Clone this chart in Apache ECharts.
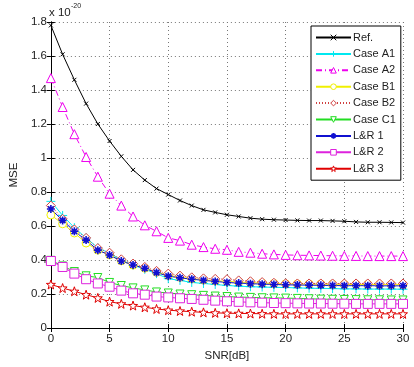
<!DOCTYPE html>
<html>
<head>
<meta charset="utf-8">
<script src="https://cdn.jsdelivr.net/npm/echarts@6/dist/echarts.min.js"></script>
<style>
  html, body { margin: 0; padding: 0; background: #fff; }
  #chart { width: 414px; height: 367px; }
</style>
</head>
<body>
<div id="chart"></div>
<script>
// SNR values 0..30 dB
const snr = [0,1,2,3,4,5,6,7,8,9,10,11,12,13,14,15,16,17,18,19,20,21,22,23,24,25,26,27,28,29,30];

// MSE values (x 1e-20)
const refMse = [1.78,1.61,1.46,1.32,1.20,1.10,1.01,0.93,0.87,0.82,0.785,0.75,0.72,0.695,0.68,0.666,0.656,0.646,0.64,0.637,0.635,0.633,0.632,0.632,0.63,0.628,0.624,0.622,0.622,0.621,0.62];
const caseA1 = [0.745,0.662,0.59,0.53,0.472,0.44,0.40,0.37,0.345,0.32,0.29,0.28,0.268,0.262,0.256,0.25,0.246,0.243,0.241,0.239,0.238,0.236,0.234,0.233,0.232,0.23,0.23,0.229,0.229,0.229,0.228];
const caseA2 = [1.47,1.30,1.14,1.006,0.89,0.79,0.72,0.656,0.604,0.569,0.53,0.514,0.49,0.476,0.466,0.46,0.448,0.443,0.437,0.433,0.43,0.428,0.427,0.426,0.425,0.424,0.424,0.423,0.423,0.423,0.423];
const caseB1 = [0.665,0.613,0.559,0.50,0.458,0.43,0.395,0.37,0.352,0.328,0.31,0.298,0.29,0.283,0.278,0.274,0.27,0.267,0.264,0.262,0.26,0.259,0.258,0.258,0.257,0.256,0.256,0.256,0.255,0.255,0.255];
const caseB2 = [0.72,0.642,0.58,0.53,0.47,0.443,0.404,0.379,0.359,0.336,0.32,0.308,0.298,0.292,0.289,0.287,0.28,0.275,0.27,0.266,0.263,0.262,0.262,0.262,0.262,0.262,0.262,0.262,0.262,0.262,0.262];
const caseC1 = [0.398,0.365,0.332,0.307,0.297,0.268,0.25,0.236,0.224,0.212,0.206,0.2,0.196,0.192,0.188,0.185,0.182,0.18,0.178,0.177,0.176,0.174,0.172,0.17,0.169,0.168,0.167,0.166,0.166,0.165,0.165];
const lr1 = [0.70,0.633,0.569,0.517,0.458,0.429,0.394,0.371,0.351,0.326,0.305,0.295,0.287,0.28,0.274,0.268,0.264,0.261,0.258,0.256,0.254,0.253,0.252,0.251,0.25,0.249,0.249,0.249,0.248,0.248,0.248];
const lr2 = [0.394,0.359,0.32,0.287,0.262,0.243,0.22,0.204,0.196,0.185,0.18,0.175,0.171,0.166,0.161,0.157,0.154,0.151,0.149,0.147,0.146,0.145,0.144,0.144,0.143,0.143,0.142,0.142,0.142,0.142,0.142];
const lr3 = [0.256,0.235,0.216,0.196,0.177,0.155,0.142,0.132,0.122,0.112,0.105,0.1,0.096,0.092,0.089,0.087,0.086,0.085,0.084,0.083,0.083,0.083,0.083,0.083,0.083,0.083,0.083,0.083,0.083,0.083,0.083];

const names = ['Ref.','Case A1','Case A2','Case B1','Case B2','Case C1','L&R 1','L&R 2','L&R 3'];

function pentagram() {
  let d = '';
  for (let i = 0; i < 10; i++) {
    const r = i % 2 === 0 ? 5 : 2;
    const a = -Math.PI / 2 + i * Math.PI / 5;
    d += (i === 0 ? 'M' : 'L') + (5 + r * Math.cos(a)).toFixed(2) + ',' + (5 + r * Math.sin(a)).toFixed(2);
  }
  return 'path://' + d + 'Z';
}

const styles = [
  { data: refMse, color: '#000000', type: 'solid', symbol: 'path://M0,0L10,10M10,0L0,10', size: 4 },
  { data: caseA1, color: '#00e8f0', type: 'solid', symbol: 'path://M5,0L5,10M0,5L10,5', size: 9 },
  { data: caseA2, color: '#ee00ee', type: [6, 3, 1, 3], symbol: 'triangle', size: 9 },
  { data: caseB1, color: '#f0f000', type: 'solid', symbol: 'circle', size: 8 },
  { data: caseB2, color: '#d04040', type: [1, 2], symbol: 'diamond', size: 9 },
  { data: caseC1, color: '#22dd22', type: 'solid', symbol: 'path://M0,0L10,0L5,9Z', size: 8 },
  { data: lr1, color: '#1010d0', type: 'solid', symbol: 'path://M5,0L5,10M0,5L10,5M1.5,1.5L8.5,8.5M8.5,1.5L1.5,8.5', size: 8 },
  { data: lr2, color: '#dd22dd', type: 'solid', symbol: 'rect', size: 9 },
  { data: lr3, color: '#e00000', type: 'solid', symbol: pentagram(), size: 9 }
];

function markerStyle(s, i) {
  return {
    color: i === 6 ? s.color : '#ffffff',
    borderColor: s.color,
    borderWidth: i === 6 ? 1.6 : 1,
    borderType: 'solid'
  };
}

const series = styles.map((s, i) => ({
  name: names[i],
  type: 'line',
  data: snr.map((x, k) => [x, s.data[k]]),
  color: s.color,
  symbol: s.symbol,
  symbolSize: s.size,
  showAllSymbol: true,
  lineStyle: { color: s.color, width: 1, type: s.type },
  itemStyle: markerStyle(s, i),
  emphasis: { disabled: true },
  animation: false
}));

const font = 'Liberation Sans';
const chart = echarts.init(document.getElementById('chart'));
chart.setOption({
  backgroundColor: '#ffffff',
  animation: false,
  textStyle: { fontFamily: font },
  grid: { left: 49, right: 11, top: 22, bottom: 36 },
  legend: {
    orient: 'vertical',
    left: 311,
    top: 26,
    itemWidth: 35,
    itemHeight: 7,
    itemGap: 5.4,
    padding: [6, 5, 6, 4],
    borderColor: '#000',
    borderWidth: 1,
    backgroundColor: '#fff',
    textStyle: { fontFamily: font, fontSize: 11, color: '#222', padding: [0, 0, 0, -3] },
    data: names.map((n, i) => ({ name: n, itemStyle: markerStyle(styles[i], i) }))
  },
  xAxis: [
    {
      type: 'value', min: 0, max: 30, interval: 5,
      name: 'SNR[dB]', nameLocation: 'middle', nameGap: 22,
      nameTextStyle: { fontFamily: font, fontSize: 11.5, color: '#222' },
      axisLine: { show: true, lineStyle: { color: '#000', width: 1 } },
      axisTick: { inside: true, length: 4, lineStyle: { color: '#000' } },
      axisLabel: { fontFamily: font, fontSize: 11.5, color: '#222', margin: 5 },
      splitLine: { show: true, lineStyle: { color: '#777', type: [1, 3], width: 1 } }
    },
    {
      type: 'value', min: 0, max: 30, interval: 5, position: 'top',
      axisLine: { show: true, lineStyle: { color: '#000', width: 1 } },
      axisTick: { inside: true, length: 4, lineStyle: { color: '#000' } },
      axisLabel: { show: false },
      splitLine: { show: false }
    }
  ],
  yAxis: [
    {
      type: 'value', min: 0, max: 1.8, interval: 0.2,
      name: 'MSE', nameLocation: 'middle', nameGap: 21,
      nameTextStyle: { fontFamily: font, fontSize: 11.5, color: '#222' },
      axisLine: { show: true, lineStyle: { color: '#000', width: 1 } },
      axisTick: { inside: true, length: 4, lineStyle: { color: '#000' } },
      axisLabel: { fontFamily: font, fontSize: 11.5, color: '#222', margin: 4 },
      splitLine: { show: true, lineStyle: { color: '#777', type: [1, 3], width: 1 } }
    },
    {
      type: 'value', min: 0, max: 1.8, interval: 0.2, position: 'right',
      axisLine: { show: true, lineStyle: { color: '#000', width: 1 } },
      axisTick: { inside: true, length: 4, lineStyle: { color: '#000' } },
      axisLabel: { show: false },
      splitLine: { show: false }
    }
  ],
  graphic: [
    { type: 'text', left: 49, top: 7, style: { text: 'x 10', font: '11.5px "Liberation Sans"', fill: '#222' } },
    { type: 'text', left: 71, top: 3, style: { text: '-20', font: '7px "Liberation Sans"', fill: '#222' } }
  ],
  series: series
});
</script>
</body>
</html>
